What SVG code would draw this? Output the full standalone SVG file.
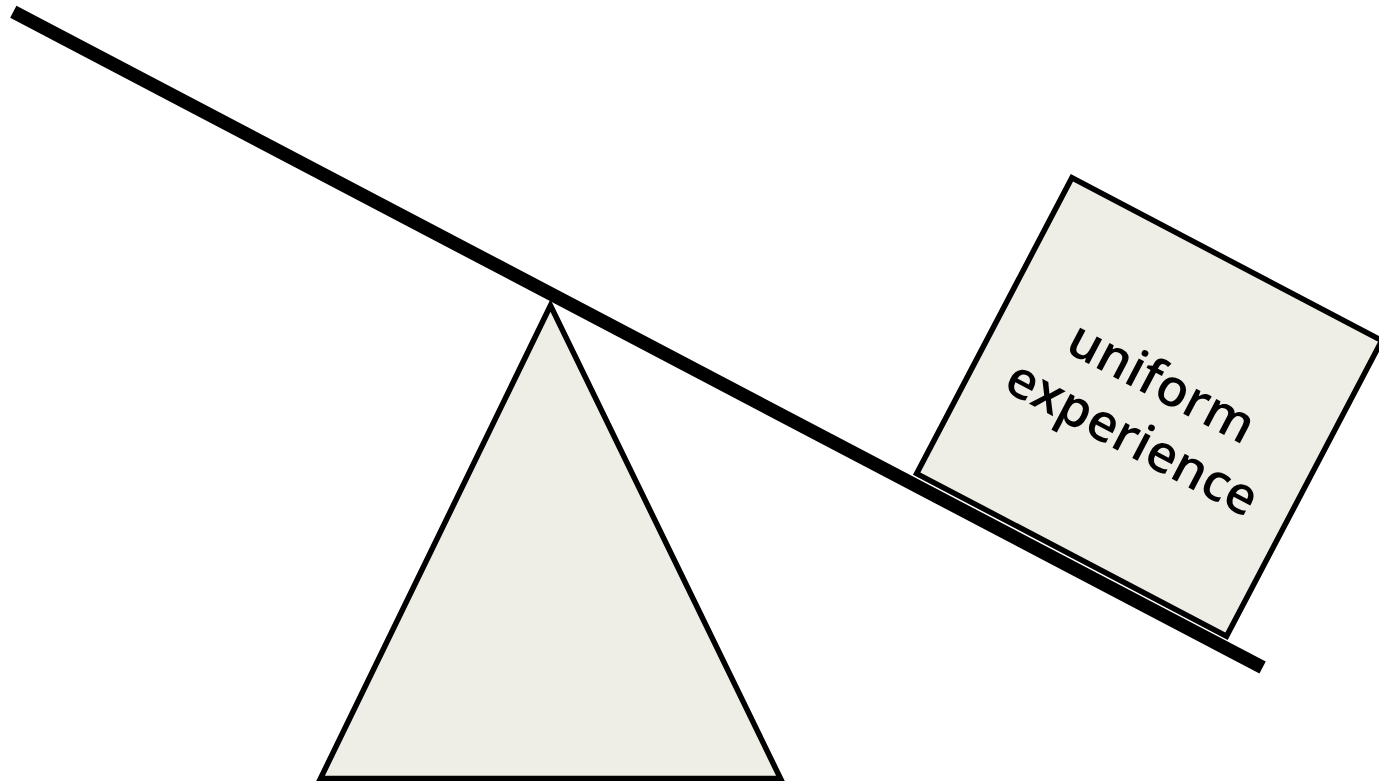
<svg xmlns="http://www.w3.org/2000/svg" width="1379" height="781" viewBox="0 0 1379 781">
<style>
.shape{fill:#efeee6;stroke:#000;stroke-width:5.5;stroke-linejoin:miter}
.label{font-family:"Open Sans","Liberation Sans",sans-serif;font-size:52px;font-weight:600;fill:#000;text-anchor:middle}
</style>
<rect width="1379" height="781" fill="#fff"/>
<g id="fulcrum">
<polygon class="shape" points="550.5,305.5 320.5,778.5 780.5,778.5"/>
</g>
<g transform="translate(13.3,11.7) rotate(27.7)">
<g id="box">
<rect class="shape" x="1014.5" y="-345" width="350" height="334"/>
<text class="label" x="1189" y="-188">uniform</text>
<text class="label" x="1189" y="-125">experience</text>
</g>
<g id="beam">
<rect x="0" y="-6.75" width="1411" height="13.5" fill="#000"/>
</g>
</g>
</svg>
